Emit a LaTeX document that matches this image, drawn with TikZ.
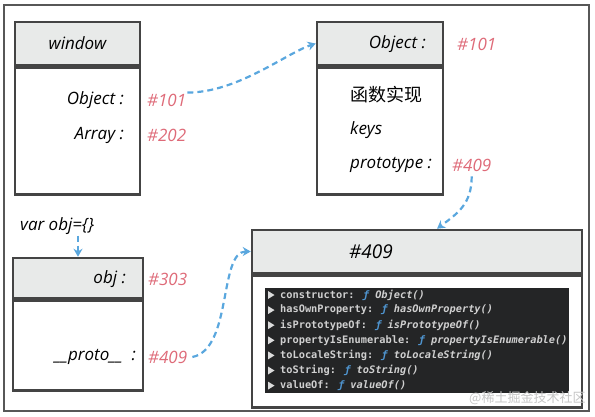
\documentclass[tikz,border=0pt]{standalone}
\usepackage{fontspec}
\setmainfont{Open Sans}
\newfontfamily\cjk{Noto Sans CJK SC}
\newfontfamily\consolefont{DejaVu Sans Mono}
\usetikzlibrary{arrows.meta,positioning}
\definecolor{boxline}{HTML}{444444}
\definecolor{headgray}{HTML}{E8EAE9}
\definecolor{hashred}{HTML}{DE6A78}
\definecolor{linkblue}{HTML}{5AA7DE}
\definecolor{panel}{HTML}{242526}
\definecolor{consoletext}{HTML}{D0D0D0}
\definecolor{fblue}{HTML}{4F95D0}
\newcommand{\hand}{\itshape\fontsize{17}{19}\selectfont}

\begin{document}
\begin{tikzpicture}[x=1pt,y=-1pt,
 headbox/.style={draw=boxline,line width=2.5pt,fill=headgray,minimum height=43pt,inner sep=0pt},
 bodybox/.style={draw=boxline,line width=2.5pt,fill=white,inner sep=0pt},
 lbl/.style={font=\hand,inner sep=1pt},
 hashval/.style={font=\hand,text=hashred,anchor=west,inner sep=1pt},
 link/.style={draw=linkblue,line width=2.2pt,dash pattern=on 6pt off 4pt,-{Stealth[length=8pt,width=9pt]}},
 consoleline/.style={anchor=west,inner sep=0pt,text=consoletext,font=\consolefont\bfseries\fontsize{10.3}{12}\selectfont}]
\useasboundingbox (0,0) rectangle (595,416);
\draw[boxline!90,line width=2.5pt] (4,5) rectangle (589,411);

% window
\node[headbox,minimum width=125pt,font=\hand] (winhead) at (77.5,43.5) {window};
\node[bodybox,minimum width=125pt,minimum height=127pt,below=0pt of winhead] (winbody) {};
\node[lbl,anchor=east] (winobjkey) at (125,100) {Object :};
\node[lbl,anchor=east] (winarrkey) at (125,135) {Array :};
\node[hashval] (win101) at (146,100) {\#101};
\node[hashval] (win202) at (146,135) {\#202};

% Object
\node[headbox,minimum width=126pt] (objhead) at (380,43.5) {};
\node[bodybox,minimum width=126pt,minimum height=127pt,below=0pt of objhead] (objbody) {};
\node[lbl,anchor=east] (objtitle) at (427,44) {Object :};
\node[hashval] (obj101) at (456,44) {\#101};
\node[anchor=west,inner sep=1pt,font=\cjk\fontsize{18}{19}\selectfont] (objimpl) at (349,95) {函数实现};
\node[lbl,anchor=west] (objkeys) at (349,130) {keys};
\node[lbl,anchor=west] (objproto) at (349,165) {prototype :};
\node[hashval] (obj409) at (451,165) {\#409};

% obj
\node[lbl,anchor=west] (varobj) at (19,226) {var obj=\{\}};
\node[headbox,minimum width=130pt,minimum height=40pt] (ohead) at (78,278) {};
\node[bodybox,minimum width=130pt,minimum height=90pt,below=0pt of ohead] (obody) {};
\node[lbl,anchor=east] (okey) at (127,279) {obj :};
\node[hashval] (o303) at (147,279) {\#303};
\node[lbl,anchor=east] (oproto) at (137,357) {\_\_proto\_\_\ \ :};
\node[hashval] (o409) at (147,357) {\#409};

% #409
\node[headbox,minimum width=330pt] (head409) at (417,251.5) {};
\node[bodybox,minimum width=330pt,minimum height=132pt,below=0pt of head409] (body409) {};
\node[lbl,font=\hand\fontsize{19}{19}\selectfont] (title409) at (371,252) {\#409};
\fill[panel] (265,288) rectangle (569,393);
\foreach \key/\fn [count=\i] in {constructor/Object,hasOwnProperty/hasOwnProperty,isPrototypeOf/isPrototypeOf,propertyIsEnumerable/propertyIsEnumerable,toLocaleString/toLocaleString,toString/toString,valueOf/valueOf}{
 \fill[consoletext!75] (268,{291+(\i-1)*15.1}) -- (274.5,{295+(\i-1)*15.1}) -- (268,{299+(\i-1)*15.1}) -- cycle;
 \node[consoleline] (prop\i) at (280,{295+(\i-1)*15.1}) {\key: {\color{fblue}\itshape ƒ} {\itshape\fn()}};
}
\node[anchor=west,inner sep=0pt,text=gray!45,font=\cjk\fontsize{13}{13}\selectfont] (mark) at (469,398) {@稀土掘金技术社区};

% links
\draw[link] (win101.north east) .. controls +(50,0) and +(-30,10) .. (objhead.west);
\draw[link] ([yshift=-4pt]obj409.south) .. controls +(0,28) and +(20,-15) .. ([xshift=20pt]head409.north);
\draw[link] (varobj.south -| ohead.north) -- (ohead.north);
\draw[link] ([xshift=4pt]o409.east) .. controls +(40,-8) and +(-32,0) .. (head409.west);
\end{tikzpicture}
\end{document}
